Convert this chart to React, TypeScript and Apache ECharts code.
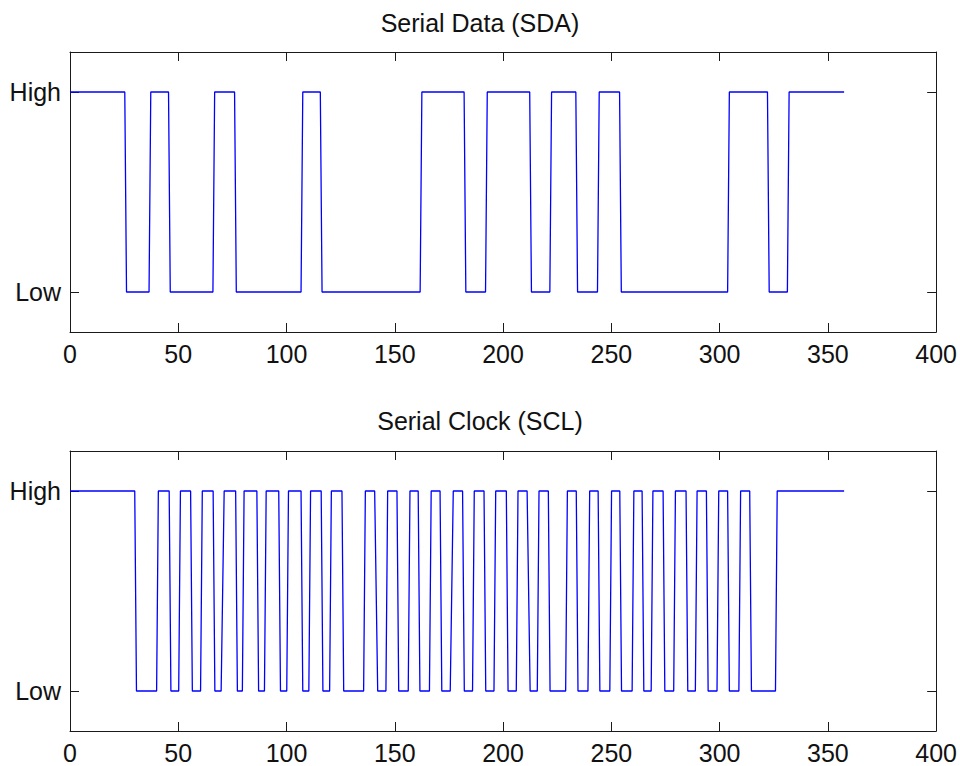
import React, { useEffect, useRef } from "react";
import * as echarts from "echarts";

// ---- data ----
const X_MIN = 0;
const X_MAX = 400;
const X_STEP = 50;
const LEVEL_VALUES = [0, 1];
const LEVEL_LABELS = ["Low", "High"];

const TITLES = ["Serial Data (SDA)", "Serial Clock (SCL)"];

// SDA: starts High, toggles at each edge (edge centre times)
const sdaEdges = [
  25.7, 36.9, 45.9, 66.4, 76.4, 107.1, 116.0, 162.1, 182.4, 192.3, 212.7,
  222.0, 234.0, 244.0, 254.2, 304.1, 322.5, 331.7,
];
const sdaStart = 1;
const sdaEnd = 357.5;

// SCL: starts High, toggles at each edge
const sclEdges = [
  30.3, 40.4, 46.2, 50.6, 56.1, 60.7, 66.5, 70.5, 76.9, 80.0, 86.7, 90.2,
  96.8, 100.5, 107.1, 110.7, 116.4, 120.3, 126.0, 136.0, 141.4, 146.3, 151.4,
  156.6, 161.2, 166.4, 171.3, 176.3, 181.7, 186.3, 191.6, 196.2, 201.9, 206.5,
  211.8, 216.2, 221.3, 229.3, 234.2, 239.6, 244.3, 249.7, 254.3, 260.0, 264.6,
  268.8, 274.3, 279.2, 284.9, 289.2, 294.3, 299.2, 304.1, 309.3, 314.3, 326.2,
];
const sclSlowEdges = [70.5, 141.4, 176.3, 211.8];
const sclStart = 1;
const sclEnd = 357.5;

const EDGE_HALF = 0.4;
const SLOW_EDGE_HALF = 0.7;

function buildTrace(
  edges: number[],
  start: number,
  end: number,
  slow: number[] = []
): number[][] {
  const pts: number[][] = [[X_MIN, start]];
  let lvl = start;
  edges.forEach((e) => {
    const h = slow.includes(e) ? SLOW_EDGE_HALF : EDGE_HALF;
    pts.push([e - h, lvl]);
    lvl = 1 - lvl;
    pts.push([e + h, lvl]);
  });
  pts.push([end, lvl]);
  return pts;
}

const FONT = "'Liberation Sans', Arial, Helvetica, sans-serif";
const AX = "#1a1a1a";

function xAxes(gridIndex: number) {
  const common = {
    gridIndex,
    type: "value" as const,
    min: X_MIN,
    max: X_MAX,
    interval: X_STEP,
    splitLine: { show: false },
    axisLine: { show: true, onZero: false, lineStyle: { color: AX, width: 1 } },
    axisTick: { show: true, inside: true, length: 9, lineStyle: { color: AX, width: 1 } },
  };
  return [
    {
      ...common,
      position: "bottom",
      axisLabel: {
        show: true,
        fontSize: 25,
        fontFamily: FONT,
        color: "#111",
        margin: 9,
        showMinLabel: true,
        showMaxLabel: true,
      },
    },
    { ...common, position: "top", axisLabel: { show: false } },
  ];
}

function yAxes(gridIndex: number) {
  const common = {
    gridIndex,
    type: "value" as const,
    min: -0.2,
    max: 1.2,
    splitLine: { show: false },
    axisLine: { show: true, onZero: false, lineStyle: { color: AX, width: 1 } },
    axisTick: {
      show: true,
      inside: true,
      length: 9,
      customValues: LEVEL_VALUES,
      lineStyle: { color: AX, width: 1 },
    },
  };
  return [
    {
      ...common,
      position: "left",
      axisLabel: {
        show: true,
        customValues: LEVEL_VALUES,
        fontSize: 25,
        fontFamily: FONT,
        color: "#111",
        margin: 9,
        formatter: (v: number) => LEVEL_LABELS[LEVEL_VALUES.indexOf(Math.round(v))] ?? "",
      },
    },
    { ...common, position: "right", axisLabel: { show: false } },
  ];
}

export default function App() {
  const ref = useRef<HTMLDivElement>(null);

  useEffect(() => {
    if (!ref.current) return;
    const chart = echarts.init(ref.current, undefined, { renderer: "svg" });
    const sda = buildTrace(sdaEdges, sdaStart, sdaEnd);
    const scl = buildTrace(sclEdges, sclStart, sclEnd, sclSlowEdges);

    chart.setOption({
      animation: false,
      backgroundColor: "#ffffff",
      title: [
        {
          text: TITLES[0],
          left: "center",
          top: 5,
          textStyle: { fontSize: 25, fontWeight: "normal", fontFamily: FONT, color: "#111" },
        },
        {
          text: TITLES[1],
          left: "center",
          top: 403,
          textStyle: { fontSize: 25, fontWeight: "normal", fontFamily: FONT, color: "#111" },
        },
      ],
      grid: [
        { left: 70, right: 21, top: 52, height: 280, show: false },
        { left: 70, right: 21, top: 451, height: 280, show: false },
      ],
      xAxis: [...xAxes(0), ...xAxes(1)],
      yAxis: [...yAxes(0), ...yAxes(1)],
      series: [
        {
          type: "line",
          name: "SDA",
          xAxisIndex: 0,
          yAxisIndex: 0,
          data: sda,
          symbol: "none",
          lineStyle: { color: "#0000ff", width: 1.3 },
        },
        {
          type: "line",
          name: "SCL",
          xAxisIndex: 2,
          yAxisIndex: 2,
          data: scl,
          symbol: "none",
          lineStyle: { color: "#0000ff", width: 1.3 },
        },
      ],
    });
    return () => chart.dispose();
  }, []);

  return (
    <div
      ref={ref}
      style={{ position: "fixed", left: 0, top: 0, width: 960, height: 766, background: "#fff" }}
    />
  );
}
